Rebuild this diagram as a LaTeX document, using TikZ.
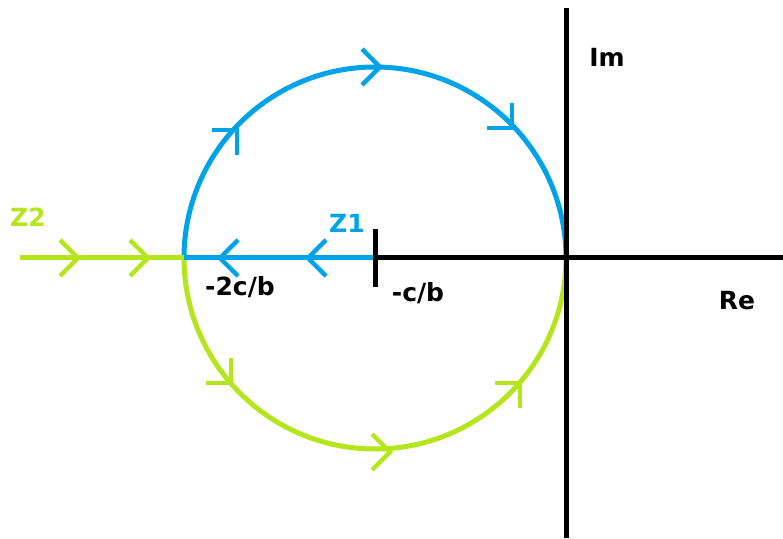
\documentclass[tikz,border=0pt]{standalone}
\usepackage{fontspec}
\setmainfont{DejaVu Sans}
\definecolor{pblue}{RGB}{0,162,232}
\definecolor{pgreen}{RGB}{181,230,29}
\tikzset{
  wire/.style={line width=5pt},
  chev/.style={line width=4.5pt},
  lbl/.style={font=\bfseries\fontsize{25}{25}\selectfont, anchor=base, inner sep=0pt},
}
\newcommand{\chevron}[3]{\draw[chev,#1,shift={(#2)},rotate=#3] (-18,18) -- (0,0) -- (-18,-18);}
\begin{document}
\begin{tikzpicture}[x=1pt,y=1pt]
\useasboundingbox (0,0) rectangle (783,538);
\coordinate (O) at (375,280);
\coordinate (L) at (184,280);
\coordinate (R) at (566,280);
\coordinate (G0) at (20,280);
\coordinate (Xend) at (783,280);
\coordinate (Ytop) at (566,530);
\coordinate (Ybot) at (566,0);
% arcs
\draw[wire,pblue] (L) arc[start angle=180,end angle=0,radius=191];
\draw[wire,pgreen] (L) arc[start angle=180,end angle=360,radius=191];
% lines
\draw[wire,pgreen] (G0) -- (L);
\draw[wire,pblue] (L) -- (O);
\draw[wire,black] (O) -- (Xend);
\draw[wire,black] (Ybot) -- (Ytop);
\draw[wire,black] (375,251) -- (375,309);
% chevrons
\chevron{pgreen}{78,280}{0}
\chevron{pgreen}{148,280}{0}
\chevron{pblue}{220,280}{180}
\chevron{pblue}{308,280}{180}
\chevron{pblue}{237,408}{45}
\chevron{pblue}{380,471}{0}
\chevron{pblue}{512,410}{-45}
\chevron{pgreen}{231,155}{-45}
\chevron{pgreen}{390,86}{0}
\chevron{pgreen}{520,155}{45}
% labels
\node[lbl,pgreen] (z2) at (28,311) {Z2};
\node[lbl,pblue] (z1) at (347,305) {Z1};
\node[lbl] (m2cb) at (240,242) {-2c/b};
\node[lbl] (mcb) at (418,236) {-c/b};
\node[lbl] (im) at (607,471) {Im};
\node[lbl] (re) at (737,228) {Re};
\end{tikzpicture}
\end{document}
